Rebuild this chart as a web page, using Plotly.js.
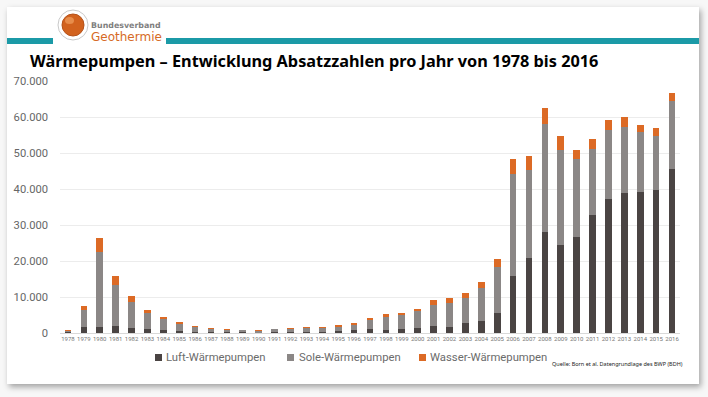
<!DOCTYPE html>
<html>
<head>
<meta charset="utf-8">
<script src="https://cdn.plot.ly/plotly-3.0.1.min.js"></script>
<style>
html,body{margin:0;padding:0;background:#f4f4f4;}
#wrap{position:relative;width:708px;height:397px;overflow:hidden;background:#f7f7f7;}
#card{position:absolute;left:7px;top:7px;width:692px;height:377px;background:#fff;box-shadow:2px 3px 6px rgba(0,0,0,0.35);}
#chart{position:absolute;left:0;top:0;width:708px;height:397px;}
</style>
</head>
<body>
<div id="wrap"><div id="card"></div><div id="chart"></div></div>
<script>
const years = ['1978','1979','1980','1981','1982','1983','1984','1985','1986','1987','1988','1989','1990','1991','1992','1993','1994','1995','1996','1997','1998','1999','2000','2001','2002','2003','2004','2005','2006','2007','2008','2009','2010','2011','2012','2013','2014','2015','2016'];
const luft = [150,1700,1750,2000,1500,1100,900,500,300,200,150,150,100,200,250,300,350,500,700,1000,900,1200,1500,1900,1800,2700,3400,5600,15900,20800,28100,24500,26600,32700,37200,38900,39300,39700,45600];
const sole = [450,4700,20750,11300,7100,4500,3000,2100,1300,1000,700,550,450,800,900,1100,1150,1300,1500,2600,3500,3700,4600,5800,6400,7000,9100,12600,28400,24600,30000,26400,21600,18300,19100,18200,16400,15100,18800];
const wasser = [200,1100,3900,2400,1600,900,500,400,300,200,150,150,150,200,250,300,300,400,600,700,800,700,600,1600,1600,1300,1600,2300,3900,3700,4300,3800,2700,2800,2800,2800,2200,2200,2200];
const seriesNames = ['Luft-Wärmepumpen','Sole-Wärmepumpen','Wasser-Wärmepumpen'];
const colors = ['#4a4443','#8b8786','#dc6a25'];
const yTicks = [0,10000,20000,30000,40000,50000,60000,70000];

const L = 60, R = 680, T = 81, B = 333;
const px = x => (x - L) / (R - L);
const py = y => (B - y) / (B - T);

const traces = [luft, sole, wasser].map((v, i) => ({
  type: 'bar', x: years, y: v, name: seriesNames[i],
  marker: {color: colors[i]}, hoverinfo: 'skip', showlegend: false
}));

// legend built from series names / colours (square + label)
const legendPos = [{sq: 155, tx: 164}, {sq: 287, tx: 297}, {sq: 419, tx: 428}];
const legendShapes = legendPos.map((p, i) => ({type: 'rect', xref: 'paper', yref: 'paper',
  x0: px(p.sq), x1: px(p.sq + 7), y0: py(361), y1: py(354), fillcolor: colors[i], line: {width: 0}}));
const legendTexts = legendPos.map((p, i) => ({text: seriesNames[i], xref: 'paper', yref: 'paper',
  x: px(p.tx), y: py(357.5), xanchor: 'left', yanchor: 'middle', showarrow: false,
  font: {size: 11.3, color: '#6b6b6b', family: 'Roboto, sans-serif'}}));

const layout = {
  width: 708, height: 397,
  margin: {l: L, r: 708 - R, t: T, b: 397 - B, pad: 0},
  paper_bgcolor: 'rgba(0,0,0,0)', plot_bgcolor: 'rgba(0,0,0,0)',
  barmode: 'stack', bargap: 0.58,
  separators: ',.',
  font: {family: 'Roboto, sans-serif', color: '#595959'},
  title: {text: 'Wärmepumpen – Entwicklung Absatzzahlen pro Jahr von 1978 bis 2016',
    x: 30/708, xanchor: 'left', y: 1 - 61/397, yanchor: 'middle',
    font: {family: 'Noto Sans, sans-serif', size: 16.3, color: '#000', weight: 'bold'}},
  xaxis: {type: 'category', tickfont: {size: 6, color: '#777'}, ticks: '', showgrid: false,
    showline: true, linecolor: '#d9d9d9', linewidth: 1, ticklen: 0, tickangle: 0},
  yaxis: {range: [0, 70000], tickvals: yTicks, tickformat: ',.0f', showgrid: true, gridcolor: '#ececec',
    gridwidth: 1, zeroline: false, tickfont: {size: 11.2, color: '#666', family: 'Roboto, sans-serif'}, ticklabelstandoff: 11},
  showlegend: false,
  shapes: [
    {type: 'rect', xref: 'paper', yref: 'paper', x0: px(7), x1: px(53), y0: py(44), y1: py(38), fillcolor: '#1b9aa7', line: {width: 0}},
    {type: 'rect', xref: 'paper', yref: 'paper', x0: px(166), x1: px(699), y0: py(44), y1: py(38), fillcolor: '#1b9aa7', line: {width: 0}},
    {type: 'circle', xref: 'paper', yref: 'paper', x0: px(58), x1: px(88), y0: py(40), y1: py(10), fillcolor: '#fff', line: {color: '#c9c9c9', width: 1}},
    {type: 'circle', xref: 'paper', yref: 'paper', x0: px(62), x1: px(84), y0: py(36), y1: py(14), fillcolor: '#d2621e', line: {color: '#b5521a', width: 1}},
    {type: 'circle', xref: 'paper', yref: 'paper', x0: px(65), x1: px(74), y0: py(24), y1: py(17), fillcolor: '#f0a060', line: {width: 0}, opacity: 0.7}
  ].concat(legendShapes),
  annotations: [
    {text: 'Bundesverband', xref: 'paper', yref: 'paper', x: px(90), y: py(25.5), xanchor: 'left', yanchor: 'middle', showarrow: false, borderpad: 0,
      font: {size: 7.9, color: '#7f7f7f', family: 'DejaVu Sans, sans-serif', weight: 'bold'}},
    {text: 'Geothermie', xref: 'paper', yref: 'paper', x: px(90), y: py(37.5), xanchor: 'left', yanchor: 'middle', showarrow: false, borderpad: 0,
      font: {size: 12, color: '#d66a26', family: 'DejaVu Sans, sans-serif'}},
    {text: 'Quelle: Born et al. Datengrundlage des BWP (BDH)', xref: 'paper', yref: 'paper', x: px(685), y: py(364), xanchor: 'right', yanchor: 'middle', showarrow: false,
      font: {size: 5.5, color: '#222', family: 'Noto Sans, sans-serif'}}
  ].concat(legendTexts)
};

Plotly.newPlot('chart', traces, layout, {displayModeBar: false, staticPlot: true});
</script>
</body>
</html>
